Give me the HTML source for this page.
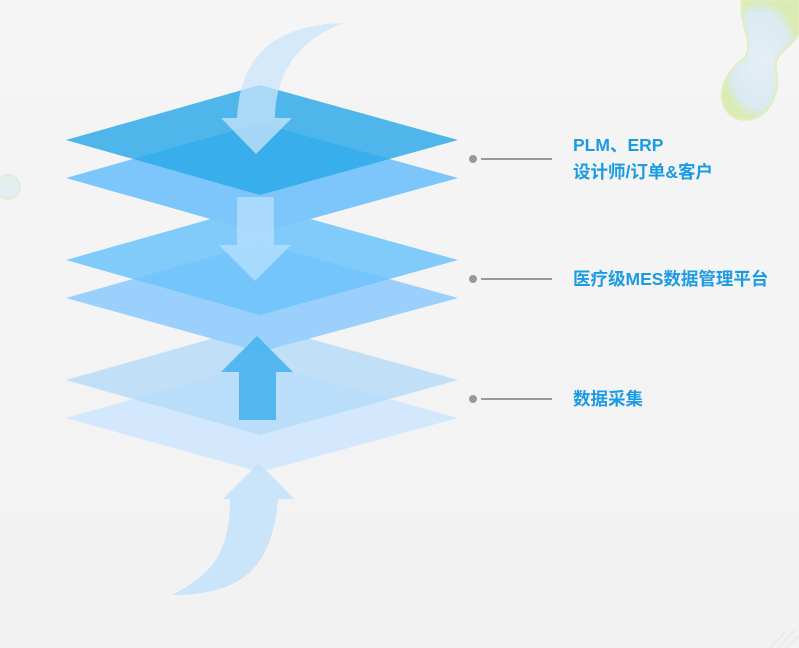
<!DOCTYPE html>
<html><head><meta charset="utf-8"><style>
html,body{margin:0;padding:0}
body{width:799px;height:648px;overflow:hidden;background:linear-gradient(#f5f5f5,#f2f2f2);position:relative;font-family:"Liberation Sans","Noto Sans CJK SC",sans-serif}
.t{position:absolute;left:573px;color:#1a9be2;font-weight:bold;font-size:17.5px;line-height:20px;white-space:nowrap}
</style></head><body>
<svg width="799" height="648" style="position:absolute;left:0;top:0">
<defs>
<radialGradient id="g" cx="0.5" cy="0.5" r="0.5"><stop offset="0" stop-color="#e4eff5"/><stop offset="0.8" stop-color="#d8eaf2"/><stop offset="1" stop-color="#d9ebb0"/></radialGradient>
</defs>
<path d="M742 0 C738 25 755 40 745 58 C722 72 712 105 735 118 C765 128 782 95 776 70 C772 50 799 45 799 30 L799 0 Z" fill="url(#g)" stroke="#dfeeb5" stroke-width="2" opacity="0.9"/>
<circle cx="8" cy="187" r="12" fill="#e4eef0" stroke="#e0ecd0" stroke-width="1.5"/>
<polygon points="66,418 260,363 458,418 260,472" fill="#d3e8fc"/>
<polygon points="66,380 260,325 458,380 260,435" fill="#b4dbf8" opacity="0.8"/>
<polygon points="66,298 260,243 458,298 260,352" fill="#9bd0fc"/>
<polygon points="66,260 260,205 458,260 260,315" fill="#6cc3fb" opacity="0.85"/>
<polygon points="66,178 260,123 458,178 260,233" fill="#7cc6fc"/>
<polygon points="66,140 260,85 458,140 260,195" fill="#2aa8e8" opacity="0.82"/>
<path d="M343,23 C300,40 276,70 275,118 L292,118 L256,154 L221,118 L237,118 C240,60 270,25 343,23 Z" fill="#c8e4fa" opacity="0.75"/>
<path d="M237,197 L274,197 L274,245 L291,245 L255,281 L219,245 L237,245 Z" fill="#b8e0fd" opacity="0.75"/>
<path d="M257,336 L293,372 L276,372 L276,420 L239,420 L239,372 L221,372 Z" fill="#48b2ee" opacity="0.9"/>
<path d="M259,463 L294,499 L278,499 C272,570 240,595 172,595 C210,575 230,555 230,499 L223,499 Z" fill="#c5e2fb" opacity="0.9"/>
<g fill="#999" stroke="#999" stroke-width="2">
<circle cx="473" cy="159" r="4" stroke="none"/><line x1="481" y1="159" x2="552" y2="159"/>
<circle cx="473" cy="279" r="4" stroke="none"/><line x1="481" y1="279" x2="552" y2="279"/>
<circle cx="473" cy="399" r="4" stroke="none"/><line x1="481" y1="399" x2="552" y2="399"/>
</g>
<path d="M770 648 L785 632 M778 648 L795 630 M786 648 L799 636" stroke="#e8e8e8" stroke-width="1.5" fill="none"/>
</svg>
<div class="t" style="top:135px">PLM、ERP</div>
<div class="t" style="top:162px">设计师/订单&amp;客户</div>
<div class="t" style="top:269px">医疗级MES数据管理平台</div>
<div class="t" style="top:389px">数据采集</div>
</body></html>
